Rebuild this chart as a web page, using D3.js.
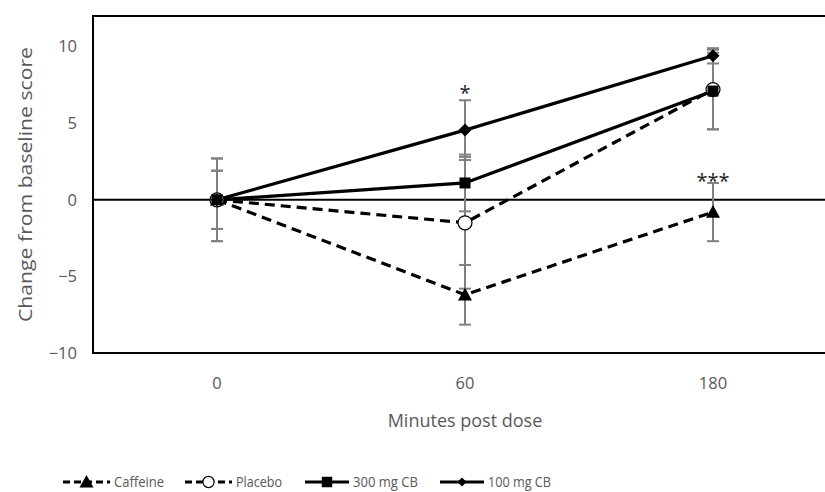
<!DOCTYPE html>
<html>
<head>
<meta charset="utf-8">
<script src="https://cdn.jsdelivr.net/npm/d3@7"></script>
<style>
  body { margin: 0; background: #fff; }
  text { font-family: "Open Sans", sans-serif; fill: #595959; }
</style>
</head>
<body>
<script>
const w = 825;
const h = 492;
const padding = { top: 16, left: 93, right: -12, bottom: 139 };

// data
const minutes = ['0', '60', '180'];
const seriesNames = ['Caffeine', 'Placebo', '300 mg CB', '100 mg CB'];
const caffeine = [0, -6.2, -0.8];
const caffeineErr = [2.7, 1.95, 1.9];
const placebo = [0, -1.5, 7.2];
const placeboErr = [1.9, 4.3, 2.6];
const cb300 = [0, 1.1, 7.1];
const cb300Err = [2.7, 1.85, 2.5];
const cb100 = [0, 4.55, 9.4];
const cb100Err = [1.9, 1.95, 0.5];
const yTicks = [-10, -5, 0, 5, 10];
const stars = [{ x: '60', y: 7.25, label: '*' }, { x: '180', y: 1.5, label: '***' }];

const series = [
  { name: seriesNames[0], values: caffeine, err: caffeineErr, dash: '10,6', marker: 'triangle' },
  { name: seriesNames[1], values: placebo, err: placeboErr, dash: '10,6', marker: 'circle' },
  { name: seriesNames[2], values: cb300, err: cb300Err, dash: null, marker: 'square' },
  { name: seriesNames[3], values: cb100, err: cb100Err, dash: null, marker: 'diamond' }
];

const svg = d3.select('body').append('svg')
  .attr('width', w)
  .attr('height', h);

const xScale = d3.scaleBand().domain(minutes).range([padding.left, w - padding.right]);
const xc = (m) => xScale(m) + xScale.bandwidth() / 2;
const yScale = d3.scaleLinear().domain([-10, 12]).range([h - padding.bottom, padding.top]);

// frame
svg.append('rect')
  .attr('x', padding.left)
  .attr('y', padding.top)
  .attr('width', w - padding.right - padding.left)
  .attr('height', h - padding.bottom - padding.top)
  .attr('fill', 'none')
  .attr('stroke', '#000')
  .attr('stroke-width', 2);

// y tick labels
const yAxis = d3.axisLeft(yScale).tickValues(yTicks).tickSize(0).tickPadding(16)
  .tickFormat((d) => d < 0 ? '\u2212' + Math.abs(d) : d);
const gy = svg.append('g')
  .attr('transform', `translate(${padding.left}, 0)`)
  .call(yAxis);
gy.select('.domain').remove();
gy.selectAll('text').style('font-size', '16.5px').attr('fill', '#595959');

// x tick labels
const xAxis = d3.axisBottom(xScale).tickSize(0).tickPadding(24);
const gx = svg.append('g')
  .attr('transform', `translate(0, ${h - padding.bottom})`)
  .call(xAxis);
gx.select('.domain').remove();
gx.selectAll('text').style('font-size', '16.5px').attr('fill', '#595959');

// zero line
svg.append('line')
  .attr('x1', padding.left)
  .attr('x2', w)
  .attr('y1', yScale(0))
  .attr('y2', yScale(0))
  .attr('stroke', '#000')
  .attr('stroke-width', 2);

// error bars
series.forEach((s) => {
  const g = svg.append('g');
  s.values.forEach((v, i) => {
    const x = xc(minutes[i]);
    const y1 = yScale(v + s.err[i]);
    const y2 = yScale(v - s.err[i]);
    g.append('line').attr('x1', x).attr('x2', x).attr('y1', y1).attr('y2', y2)
      .attr('stroke', '#808080').attr('stroke-width', 2);
    [y1, y2].forEach((y) => {
      g.append('line').attr('x1', x - 6).attr('x2', x + 6).attr('y1', y).attr('y2', y)
        .attr('stroke', '#808080').attr('stroke-width', 2);
    });
  });
});

// lines
const line = d3.line()
  .x((d, i) => xc(minutes[i]))
  .y((d) => yScale(d));

series.forEach((s) => {
  svg.append('path')
    .datum(s.values)
    .attr('d', line)
    .attr('fill', 'none')
    .attr('stroke', '#000')
    .attr('stroke-width', 3.2)
    .attr('stroke-dasharray', s.dash);
});

function drawMarker(g, type, x, y, scale) {
  scale = scale || 1;
  if (type === 'triangle') {
    const s = 7 * scale;
    g.append('path').attr('d', `M${x},${y - s} L${x + s},${y + s * 0.8} L${x - s},${y + s * 0.8} Z`).attr('fill', '#000');
  } else if (type === 'circle') {
    g.append('circle').attr('cx', x).attr('cy', y).attr('r', 7 * scale)
      .attr('fill', '#fff').attr('stroke', '#000').attr('stroke-width', 1.2);
  } else if (type === 'square') {
    const s = 5.5 * scale;
    g.append('rect').attr('x', x - s).attr('y', y - s).attr('width', 2 * s).attr('height', 2 * s).attr('fill', '#000');
  } else {
    const s = 6.5 * scale;
    g.append('path').attr('d', `M${x},${y - s} L${x + s},${y} L${x},${y + s} L${x - s},${y} Z`).attr('fill', '#000');
  }
}

// markers
series.forEach((s) => {
  const g = svg.append('g');
  s.values.forEach((v, i) => drawMarker(g, s.marker, xc(minutes[i]), yScale(v)));
});

// significance stars
stars.forEach((st) => {
  svg.append('text')
    .attr('x', xc(st.x))
    .attr('y', yScale(st.y) + 11)
    .attr('text-anchor', 'middle')
    .style('font-size', '20px')
    .style('fill', '#222')
    .text(st.label);
});

// axis titles
svg.append('text')
  .attr('transform', `translate(32, ${(padding.top + h - padding.bottom) / 2}) rotate(-90)`)
  .attr('text-anchor', 'middle')
  .style('font-size', '19px')
  .attr('textLength', 275)
  .attr('lengthAdjust', 'spacingAndGlyphs')
  .text('Change from baseline score');

svg.append('text')
  .attr('x', xc('60'))
  .attr('y', 427)
  .attr('text-anchor', 'middle')
  .style('font-size', '18px')
  .text('Minutes post dose');

// legend
const legendX = [63, 185, 305, 440];
const legendTextW = [50, 46, 65, 63];
const legend = svg.append('g');
series.forEach((s, i) => {
  const x0 = legendX[i];
  const y0 = 482;
  const len = s.dash ? 47 : 44;
  legend.append('line')
    .attr('x1', x0).attr('x2', x0 + len)
    .attr('y1', y0).attr('y2', y0)
    .attr('stroke', '#000').attr('stroke-width', 3)
    .attr('stroke-dasharray', s.dash ? '7,4' : null);
  const sc = { triangle: 1.0, circle: 0.8, square: 0.95, diamond: 0.7 }[s.marker];
  drawMarker(legend, s.marker, x0 + len / 2, y0, sc);
  legend.append('text')
    .attr('x', x0 + len + 4)
    .attr('y', y0 + 5)
    .style('font-size', '15px')
    .attr('textLength', legendTextW[i])
    .attr('lengthAdjust', 'spacingAndGlyphs')
    .text(s.name);
});
</script>
</body>
</html>
